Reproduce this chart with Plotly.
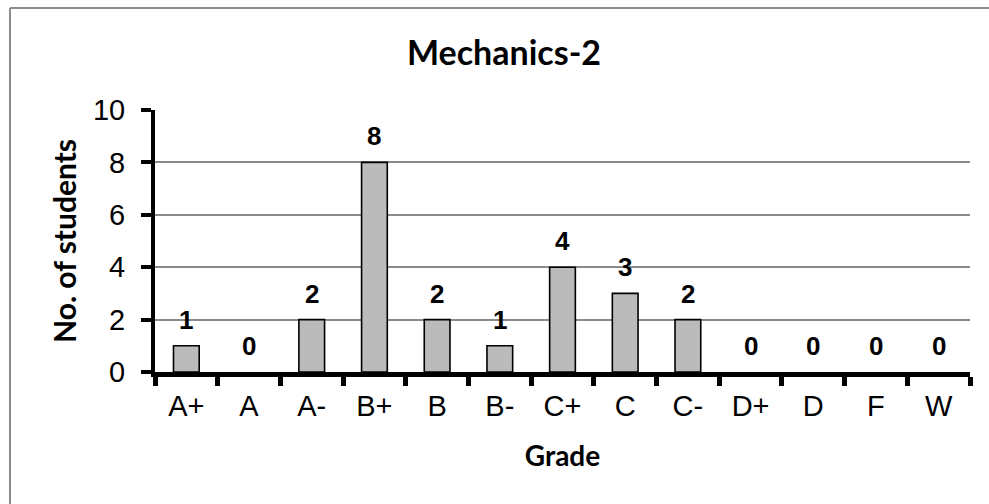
import plotly.graph_objects as go

grades = ["A+", "A", "A-", "B+", "B", "B-", "C+", "C", "C-", "D+", "D", "F", "W"]
students = [1, 0, 2, 8, 2, 1, 4, 3, 2, 0, 0, 0, 0]
y_ticks = [0, 2, 4, 6, 8, 10]

W, H = 989, 504
ML, MR, MT, MB = 155, 19, 110, 132

fig = go.Figure()
fig.add_trace(go.Bar(
    x=grades, y=students,
    marker=dict(color="#BBBBBB",
                line=dict(color="black", width=[1.6 if v > 0 else 0 for v in students])),
    width=0.41, hoverinfo="skip",
))

for g, v in zip(grades, students):
    fig.add_annotation(x=g, y=v, text=f"<b>{v}</b>", showarrow=False,
                       yanchor="middle", yshift=26,
                       font=dict(family="Liberation Sans, Arial", size=26, color="black"))

pw = W - ML - MR
ph = H - MT - MB
fx0 = (10 - ML) / pw
fx1 = (W + 30 - ML) / pw
fy0 = (H - MB - (H + 30)) / ph
fy1 = (H - MB - 8) / ph
frame = dict(color="#8C8C8C", width=2)
fig.add_shape(type="line", xref="paper", yref="paper", x0=fx0, x1=fx1, y0=fy1, y1=fy1,
              line=frame, layer="below")
fig.add_shape(type="line", xref="paper", yref="paper", x0=fx0, x1=fx0, y0=fy0, y1=fy1,
              line=frame, layer="below")

fig.update_layout(
    width=W, height=H,
    margin=dict(l=ML, r=MR, t=MT, b=MB),
    paper_bgcolor="white", plot_bgcolor="white",
    showlegend=False,
    title=dict(text="<b>Mechanics-2</b>", x=504 / W, xanchor="center",
               y=1 - 53 / H, yanchor="middle",
               font=dict(family="Lato, Open Sans", size=34, color="black")),
    xaxis=dict(
        type="category", categoryorder="array", categoryarray=grades,
        range=[-0.5, len(grades) - 0.5], automargin=False,
        showline=True, linecolor="black", linewidth=5,
        ticks="outside", tickson="boundaries", ticklen=9, tickwidth=5, tickcolor="black",
        ticklabelstandoff=4,
        tickfont=dict(family="Liberation Sans, Arial", size=29, color="black"),
        showgrid=False, zeroline=False,
        title=dict(text="<b>Grade</b>", standoff=27,
                   font=dict(family="Lato, Open Sans", size=28, color="black")),
    ),
    yaxis=dict(
        range=[0, 10], tickvals=y_ticks, automargin=False,
        showline=True, linecolor="black", linewidth=4,
        ticks="outside", ticklen=10, tickwidth=4, tickcolor="black",
        ticklabelstandoff=10,
        tickfont=dict(family="Liberation Sans, Arial", size=29, color="black"),
        showgrid=True, gridcolor="#8A8A8A", gridwidth=1.5, zeroline=False,
        title=dict(text="<b>No. of students</b>", standoff=8,
                   font=dict(family="Lato, Open Sans", size=30, color="black")),
    ),
)

fig.write_html("out.html", config={"displayModeBar": False},
               post_script="document.body.style.margin='0';document.body.style.padding='0';")
